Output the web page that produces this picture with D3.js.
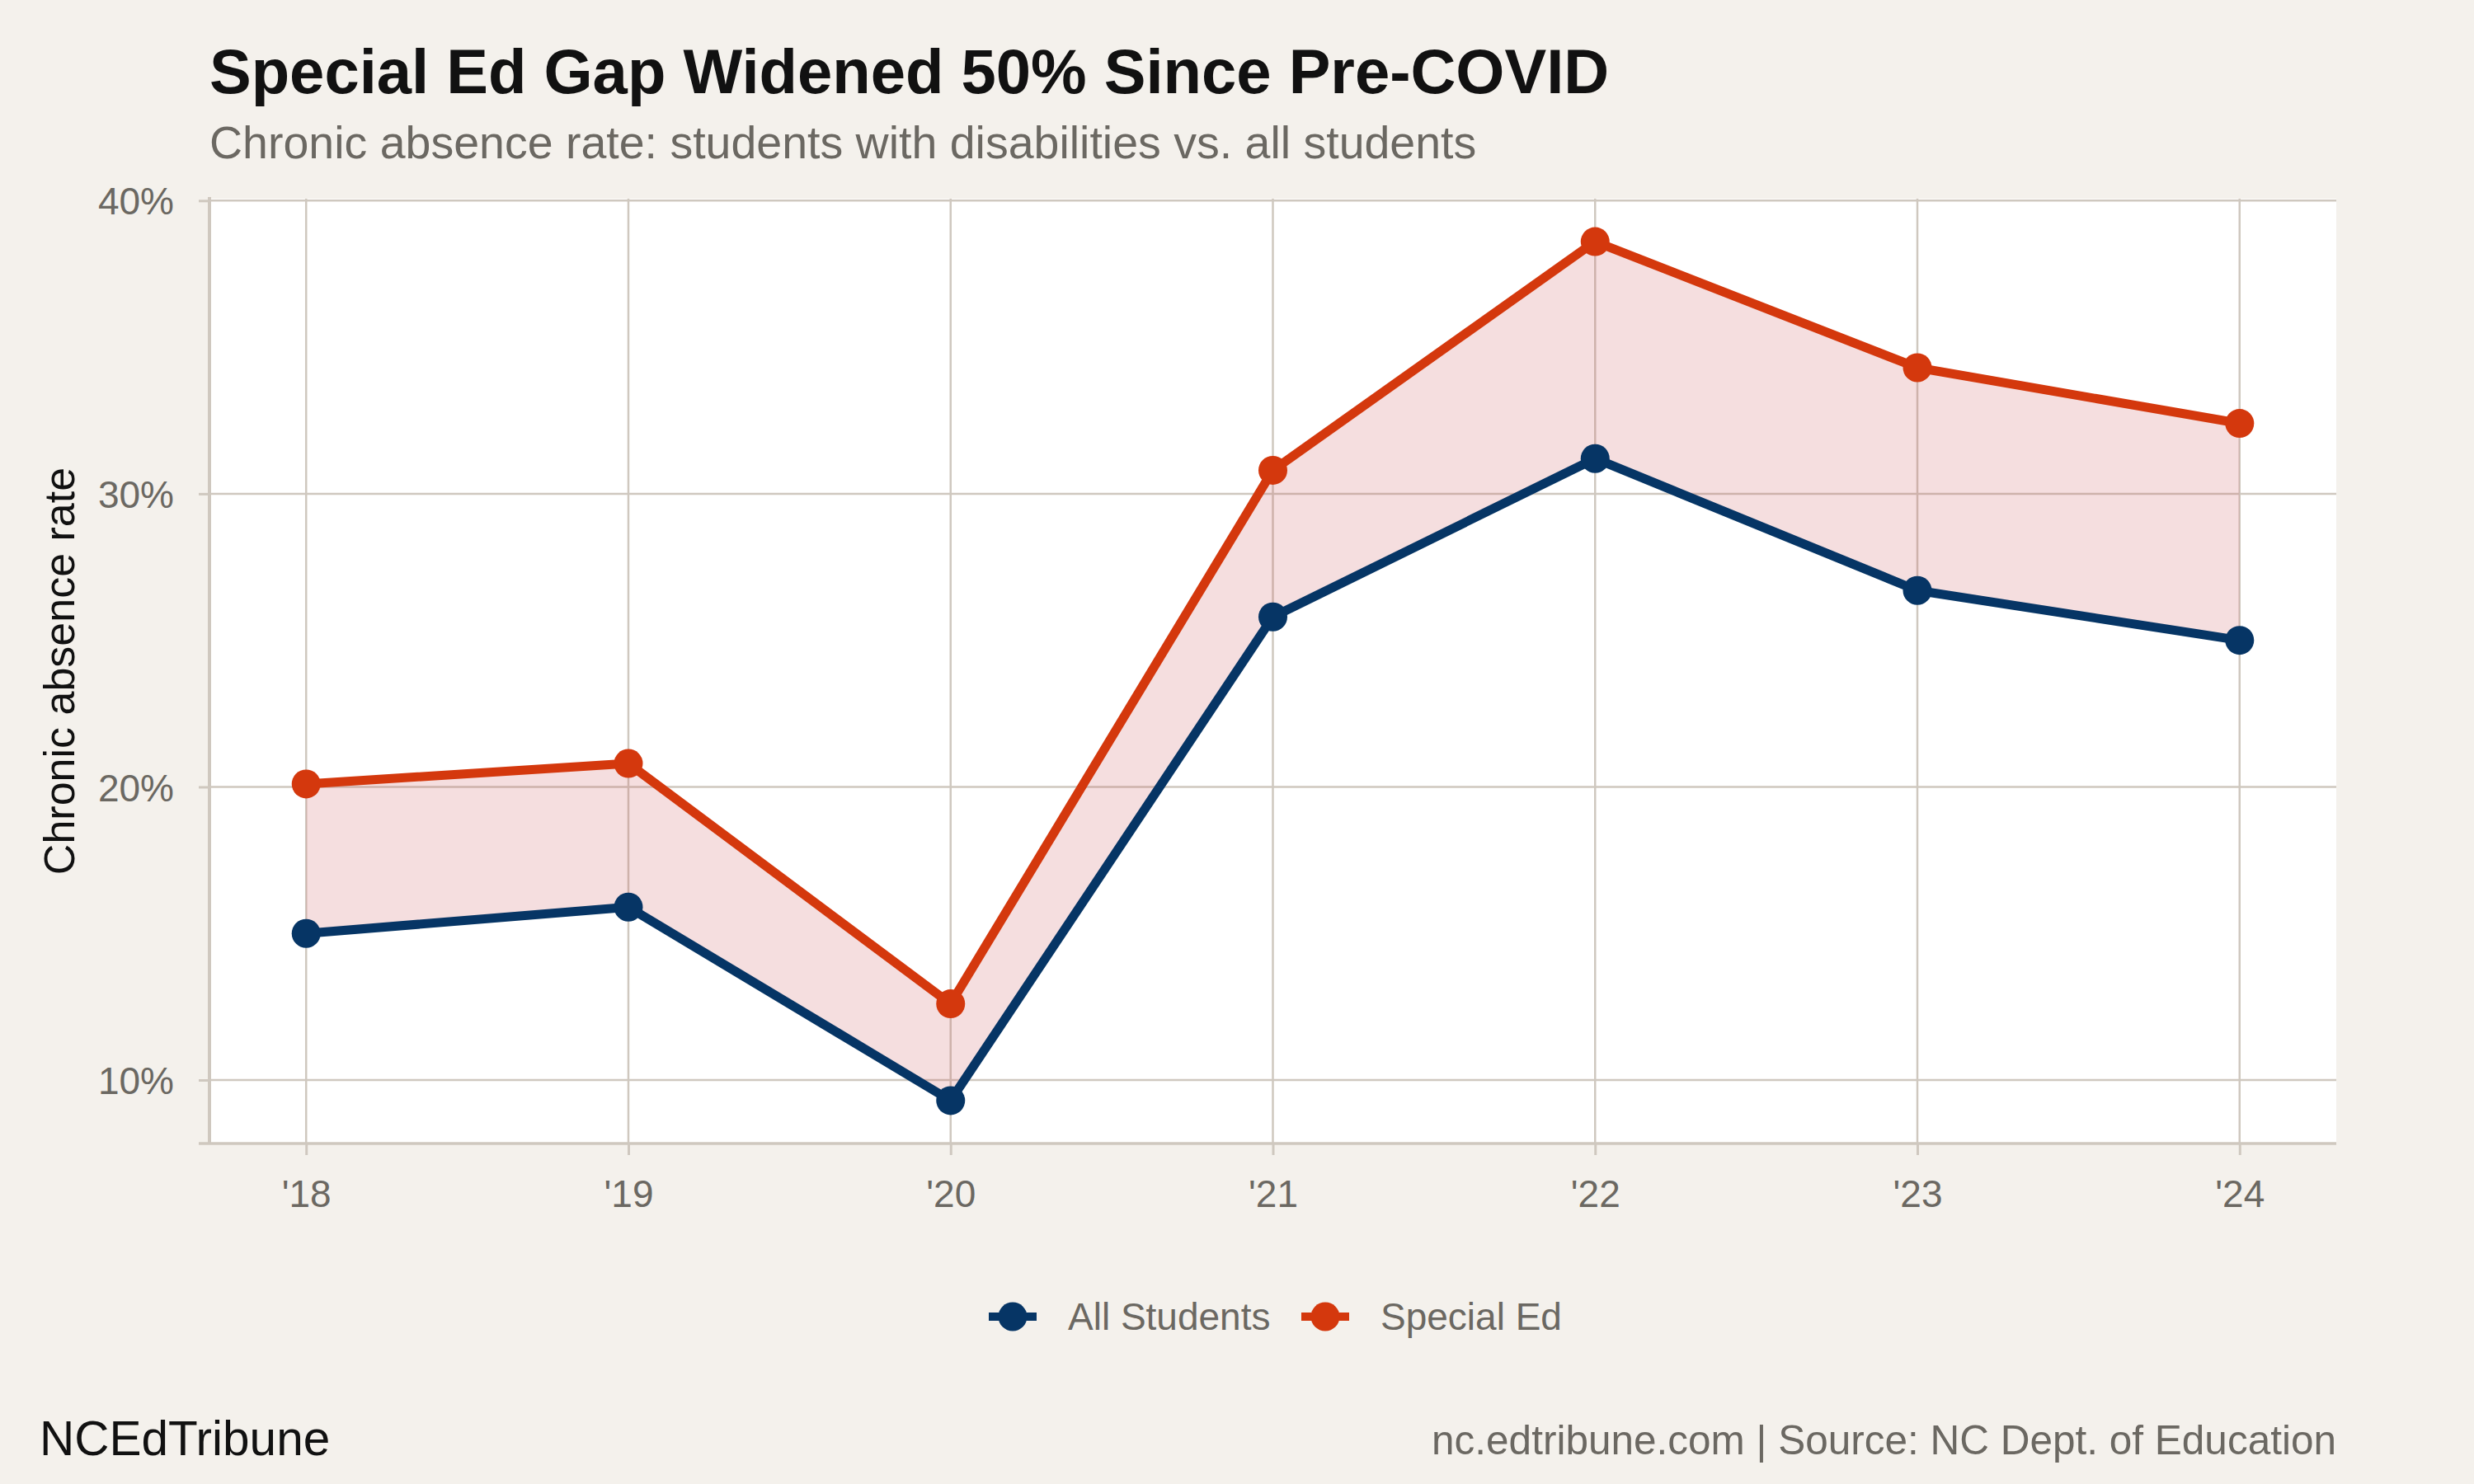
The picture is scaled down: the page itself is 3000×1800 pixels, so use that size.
<!DOCTYPE html>
<html>
<head>
<meta charset="utf-8">
<script src="https://cdn.jsdelivr.net/npm/d3@7"></script>
<style>
  body { margin: 0; background: #F4F1EC; }
  text { font-family: "Liberation Sans", Arial, Helvetica, sans-serif; }
</style>
</head>
<body>
<div class="canvas"></div>
<script>
const years = [2018, 2019, 2020, 2021, 2022, 2023, 2024];
const yearLabels = ["'18", "'19", "'20", "'21", "'22", "'23", "'24"];
const allStudents = [15.0, 15.9, 9.3, 25.8, 31.2, 26.7, 25.0];
const specialEd = [20.1, 20.8, 12.6, 30.8, 38.6, 34.3, 32.4];
const yTicks = [10, 20, 30, 40];
const seriesNames = ["All Students", "Special Ed"];
const seriesColours = ["#063565", "#D4380D"];

const dims = { w: 3000, h: 1800 };
const panel = { left: 254, right: 2833, top: 241, bottom: 1387 };
const grey = "#6B6862";
const gridCol = "#CFC8BF";

const svg = d3
  .select(".canvas")
  .append("svg")
  .attr("width", dims.w)
  .attr("height", dims.h);

svg.append("rect")
  .attr("width", dims.w)
  .attr("height", dims.h)
  .attr("fill", "#F4F1EC");

// ggplot-style 5% expansion
const x = d3.scaleLinear().domain([2017.7, 2024.3]).range([panel.left, panel.right]);
const y = d3.scaleLinear().domain([7.835, 40.065]).range([panel.bottom, panel.top]);

svg.append("rect")
  .attr("x", panel.left)
  .attr("y", panel.top)
  .attr("width", panel.right - panel.left)
  .attr("height", panel.bottom - panel.top)
  .attr("fill", "#fff");

// gridlines
const grid = svg.append("g");
grid.selectAll(".vg")
  .data(years)
  .enter()
  .append("line")
  .attr("x1", d => x(d)).attr("x2", d => x(d))
  .attr("y1", panel.top).attr("y2", panel.bottom)
  .attr("stroke", gridCol).attr("stroke-width", 2.5);
grid.selectAll(".hg")
  .data(yTicks)
  .enter()
  .append("line")
  .attr("x1", panel.left).attr("x2", panel.right)
  .attr("y1", d => y(d)).attr("y2", d => y(d))
  .attr("stroke", gridCol).attr("stroke-width", 2.5);

const rows = years.map((yr, i) => ({ yr, all: allStudents[i], sped: specialEd[i] }));

// gap ribbon
const area = d3.area()
  .x(d => x(d.yr))
  .y0(d => y(d.all))
  .y1(d => y(d.sped));

svg.append("path")
  .datum(rows)
  .attr("d", area)
  .attr("fill", "rgb(205,90,95)")
  .attr("fill-opacity", 0.2);

// axes
const yAxis = d3.axisLeft(y)
  .tickValues(yTicks)
  .tickFormat(d => d + "%")
  .tickSize(13)
  .tickPadding(30);

const xAxis = d3.axisBottom(x)
  .tickValues(years)
  .tickFormat((d, i) => yearLabels[i])
  .tickSize(14)
  .tickPadding(30);

const yG = svg.append("g")
  .attr("transform", `translate(${panel.left},0)`)
  .call(yAxis);
const xG = svg.append("g")
  .attr("transform", `translate(0,${panel.bottom})`)
  .call(xAxis);

[yG, xG].forEach(g => {
  g.select(".domain").remove();
  g.selectAll(".tick line").attr("stroke", gridCol).attr("stroke-width", 3);
  g.selectAll(".tick text")
    .attr("fill", grey)
    .attr("font-size", 46);
});
yG.selectAll(".tick text").attr("dy", "0.36em");
xG.selectAll(".tick text").attr("dy", "0.72em");

svg.append("line")
  .attr("x1", panel.left).attr("x2", panel.left)
  .attr("y1", panel.top - 2).attr("y2", panel.bottom)
  .attr("stroke", gridCol).attr("stroke-width", 4);
svg.append("line")
  .attr("x1", panel.left - 13).attr("x2", panel.right)
  .attr("y1", panel.bottom).attr("y2", panel.bottom)
  .attr("stroke", gridCol).attr("stroke-width", 3.5);

// lines + points
const series = [allStudents, specialEd];
series.forEach((vals, s) => {
  const line = d3.line()
    .x((d, i) => x(years[i]))
    .y(d => y(d));
  svg.append("path")
    .datum(vals)
    .attr("d", line)
    .attr("fill", "none")
    .attr("stroke", seriesColours[s])
    .attr("stroke-width", 11)
    .attr("stroke-linejoin", "round");
  svg.selectAll(".pt" + s)
    .data(vals)
    .enter()
    .append("circle")
    .attr("cx", (d, i) => x(years[i]))
    .attr("cy", d => y(d))
    .attr("r", 17.5)
    .attr("fill", seriesColours[s]);
});

// titles
svg.append("text")
  .attr("x", panel.left)
  .attr("y", 113)
  .attr("font-size", 76)
  .attr("font-weight", "bold")
  .attr("fill", "#111")
  .text("Special Ed Gap Widened 50% Since Pre-COVID");

svg.append("text")
  .attr("x", panel.left)
  .attr("y", 192)
  .attr("font-size", 55.5)
  .attr("fill", grey)
  .text("Chronic absence rate: students with disabilities vs. all students");

svg.append("text")
  .attr("transform", `translate(90,${(panel.top + panel.bottom) / 2}) rotate(-90)`)
  .attr("text-anchor", "middle")
  .attr("font-size", 52)
  .attr("fill", "#111")
  .text("Chronic absence rate");

// legend
const legendX = [1199, 1578];
const legend = svg.append("g");
seriesNames.forEach((name, i) => {
  const g = legend.append("g").attr("transform", `translate(${legendX[i]},1597)`);
  g.append("line")
    .attr("x1", 0).attr("x2", 58)
    .attr("stroke", seriesColours[i])
    .attr("stroke-width", 10);
  g.append("circle")
    .attr("cx", 29)
    .attr("r", 17.5)
    .attr("fill", seriesColours[i]);
  g.append("text")
    .attr("x", 96)
    .attr("y", 16)
    .attr("font-size", 46)
    .attr("fill", grey)
    .text(name);
});

// captions
svg.append("text")
  .attr("x", 48)
  .attr("y", 1765)
  .attr("font-size", 58.5)
  .attr("fill", "#111")
  .text("NCEdTribune");

svg.append("text")
  .attr("x", panel.right)
  .attr("y", 1764)
  .attr("text-anchor", "end")
  .attr("font-size", 49.5)
  .attr("fill", grey)
  .text("nc.edtribune.com | Source: NC Dept. of Education");
</script>
</body>
</html>
